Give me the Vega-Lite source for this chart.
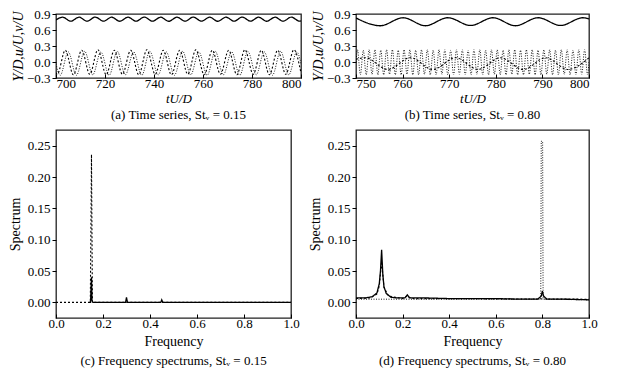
{
"$schema":"https://vega.github.io/schema/vega-lite/v6.json",
"background":"white",
"padding":{"left":7,"top":7,"right":5,"bottom":5},
"config":{
 "view":{"stroke":"#222","strokeWidth":1.3},
 "font":"Liberation Serif",
 "axis":{"grid":false,"domain":false,"labelFont":"Liberation Serif","labelFontSize":13,"labelColor":"black","titleFont":"Liberation Serif","titleFontSize":13,"titleFontWeight":"normal","titleColor":"black","tickColor":"black","tickSize":4},
 "axisX":{"tickSize":-4,"labelPadding":3,"titlePadding":2},
 "title":{"font":"Liberation Serif","fontSize":13,"fontWeight":"normal","color":"black","orient":"bottom","offset":4}
},
"datasets":{
"a":[
{"s":"Y","t":700,"y":0.79},{"s":"Y","t":702.7,"y":0.84},{"s":"Y","t":706.0,"y":0.765},{"s":"Y","t":709.4,"y":0.84},{"s":"Y","t":712.7,"y":0.765},{"s":"Y","t":716.0,"y":0.842},{"s":"Y","t":719.4,"y":0.766},{"s":"Y","t":722.7,"y":0.84},{"s":"Y","t":726.0,"y":0.764},{"s":"Y","t":729.4,"y":0.84},{"s":"Y","t":732.7,"y":0.765},{"s":"Y","t":736.0,"y":0.842},{"s":"Y","t":739.4,"y":0.766},{"s":"Y","t":742.7,"y":0.84},{"s":"Y","t":746.0,"y":0.764},{"s":"Y","t":749.4,"y":0.84},{"s":"Y","t":752.7,"y":0.765},{"s":"Y","t":756.0,"y":0.842},{"s":"Y","t":759.4,"y":0.766},{"s":"Y","t":762.7,"y":0.84},{"s":"Y","t":766.0,"y":0.764},{"s":"Y","t":769.4,"y":0.84},{"s":"Y","t":772.7,"y":0.765},{"s":"Y","t":776.0,"y":0.842},{"s":"Y","t":779.4,"y":0.766},{"s":"Y","t":782.7,"y":0.84},{"s":"Y","t":786.0,"y":0.764},{"s":"Y","t":789.4,"y":0.84},{"s":"Y","t":792.7,"y":0.765},{"s":"Y","t":796.0,"y":0.842},{"s":"Y","t":799.4,"y":0.766},{"s":"Y","t":800,"y":0.77},
{"s":"u","t":700,"y":-0.2},{"s":"u","t":700.5,"y":-0.23},{"s":"u","t":703.8,"y":0.22},{"s":"u","t":707.1,"y":-0.24},{"s":"u","t":710.5,"y":0.22},{"s":"u","t":713.8,"y":-0.23},{"s":"u","t":717.1,"y":0.23},{"s":"u","t":720.5,"y":-0.24},{"s":"u","t":723.8,"y":0.22},{"s":"u","t":727.1,"y":-0.23},{"s":"u","t":730.5,"y":0.22},{"s":"u","t":733.8,"y":-0.24},{"s":"u","t":737.1,"y":0.23},{"s":"u","t":740.5,"y":-0.23},{"s":"u","t":743.8,"y":0.22},{"s":"u","t":747.1,"y":-0.24},{"s":"u","t":750.5,"y":0.22},{"s":"u","t":753.8,"y":-0.23},{"s":"u","t":757.1,"y":0.23},{"s":"u","t":760.5,"y":-0.24},{"s":"u","t":763.8,"y":0.22},{"s":"u","t":767.1,"y":-0.23},{"s":"u","t":770.5,"y":0.22},{"s":"u","t":773.8,"y":-0.24},{"s":"u","t":777.1,"y":0.23},{"s":"u","t":780.5,"y":-0.23},{"s":"u","t":783.8,"y":0.22},{"s":"u","t":787.1,"y":-0.24},{"s":"u","t":790.5,"y":0.22},{"s":"u","t":793.8,"y":-0.23},{"s":"u","t":797.1,"y":0.23},{"s":"u","t":800,"y":-0.21},
{"s":"v","t":700,"y":-0.03},{"s":"v","t":701.7,"y":-0.25},{"s":"v","t":705.0,"y":0.19},{"s":"v","t":708.3,"y":-0.25},{"s":"v","t":711.7,"y":0.2},{"s":"v","t":715.0,"y":-0.24},{"s":"v","t":718.3,"y":0.19},{"s":"v","t":721.7,"y":-0.25},{"s":"v","t":725.0,"y":0.2},{"s":"v","t":728.3,"y":-0.24},{"s":"v","t":731.7,"y":0.19},{"s":"v","t":735.0,"y":-0.25},{"s":"v","t":738.3,"y":0.2},{"s":"v","t":741.7,"y":-0.24},{"s":"v","t":745.0,"y":0.19},{"s":"v","t":748.3,"y":-0.25},{"s":"v","t":751.7,"y":0.2},{"s":"v","t":755.0,"y":-0.24},{"s":"v","t":758.3,"y":0.19},{"s":"v","t":761.7,"y":-0.25},{"s":"v","t":765.0,"y":0.2},{"s":"v","t":768.3,"y":-0.24},{"s":"v","t":771.7,"y":0.19},{"s":"v","t":775.0,"y":-0.25},{"s":"v","t":778.3,"y":0.2},{"s":"v","t":781.7,"y":-0.24},{"s":"v","t":785.0,"y":0.19},{"s":"v","t":788.3,"y":-0.25},{"s":"v","t":791.7,"y":0.2},{"s":"v","t":795.0,"y":-0.24},{"s":"v","t":798.3,"y":0.19},{"s":"v","t":800,"y":-0.03}
],
"b":[
{"s":"Y","t":750,"y":0.825},{"s":"Y","t":755.2,"y":0.68},{"s":"Y","t":760.1,"y":0.83},{"s":"Y","t":764.9,"y":0.68},{"s":"Y","t":769.7,"y":0.83},{"s":"Y","t":774.6,"y":0.685},{"s":"Y","t":779.4,"y":0.83},{"s":"Y","t":784.2,"y":0.68},{"s":"Y","t":789.1,"y":0.83},{"s":"Y","t":793.9,"y":0.685},{"s":"Y","t":798.7,"y":0.83},{"s":"Y","t":800,"y":0.81},
{"s":"u","t":750,"y":0.05},{"s":"u","t":752,"y":0.08},{"s":"u","t":756.8,"y":-0.14},{"s":"u","t":761.7,"y":0.08},{"s":"u","t":766.5,"y":-0.14},{"s":"u","t":771.4,"y":0.08},{"s":"u","t":776.2,"y":-0.14},{"s":"u","t":781,"y":0.08},{"s":"u","t":785.9,"y":-0.14},{"s":"u","t":790.7,"y":0.08},{"s":"u","t":795.5,"y":-0.14},{"s":"u","t":800,"y":0.08},
{"s":"v","t":750,"y":0},
{"s":"v","t":750.31,"y":0.23},{"s":"v","t":750.94,"y":-0.24},{"s":"v","t":751.56,"y":0.22},{"s":"v","t":752.19,"y":-0.24},{"s":"v","t":752.81,"y":0.23},{"s":"v","t":753.44,"y":-0.23},{"s":"v","t":754.06,"y":0.23},{"s":"v","t":754.69,"y":-0.24},{"s":"v","t":755.31,"y":0.22},{"s":"v","t":755.94,"y":-0.24},
{"s":"v","t":756.56,"y":0.23},{"s":"v","t":757.19,"y":-0.23},{"s":"v","t":757.81,"y":0.23},{"s":"v","t":758.44,"y":-0.24},{"s":"v","t":759.06,"y":0.22},{"s":"v","t":759.69,"y":-0.24},{"s":"v","t":760.31,"y":0.23},{"s":"v","t":760.94,"y":-0.23},{"s":"v","t":761.56,"y":0.23},{"s":"v","t":762.19,"y":-0.24},
{"s":"v","t":762.81,"y":0.22},{"s":"v","t":763.44,"y":-0.24},{"s":"v","t":764.06,"y":0.23},{"s":"v","t":764.69,"y":-0.23},{"s":"v","t":765.31,"y":0.23},{"s":"v","t":765.94,"y":-0.24},{"s":"v","t":766.56,"y":0.22},{"s":"v","t":767.19,"y":-0.24},{"s":"v","t":767.81,"y":0.23},{"s":"v","t":768.44,"y":-0.23},
{"s":"v","t":769.06,"y":0.23},{"s":"v","t":769.69,"y":-0.24},{"s":"v","t":770.31,"y":0.22},{"s":"v","t":770.94,"y":-0.24},{"s":"v","t":771.56,"y":0.23},{"s":"v","t":772.19,"y":-0.23},{"s":"v","t":772.81,"y":0.23},{"s":"v","t":773.44,"y":-0.24},{"s":"v","t":774.06,"y":0.22},{"s":"v","t":774.69,"y":-0.24},
{"s":"v","t":775.31,"y":0.23},{"s":"v","t":775.94,"y":-0.23},{"s":"v","t":776.56,"y":0.23},{"s":"v","t":777.19,"y":-0.24},{"s":"v","t":777.81,"y":0.22},{"s":"v","t":778.44,"y":-0.24},{"s":"v","t":779.06,"y":0.23},{"s":"v","t":779.69,"y":-0.23},{"s":"v","t":780.31,"y":0.23},{"s":"v","t":780.94,"y":-0.24},
{"s":"v","t":781.56,"y":0.22},{"s":"v","t":782.19,"y":-0.24},{"s":"v","t":782.81,"y":0.23},{"s":"v","t":783.44,"y":-0.23},{"s":"v","t":784.06,"y":0.23},{"s":"v","t":784.69,"y":-0.24},{"s":"v","t":785.31,"y":0.22},{"s":"v","t":785.94,"y":-0.24},{"s":"v","t":786.56,"y":0.23},{"s":"v","t":787.19,"y":-0.23},
{"s":"v","t":787.81,"y":0.23},{"s":"v","t":788.44,"y":-0.24},{"s":"v","t":789.06,"y":0.22},{"s":"v","t":789.69,"y":-0.24},{"s":"v","t":790.31,"y":0.23},{"s":"v","t":790.94,"y":-0.23},{"s":"v","t":791.56,"y":0.23},{"s":"v","t":792.19,"y":-0.24},{"s":"v","t":792.81,"y":0.22},{"s":"v","t":793.44,"y":-0.24},
{"s":"v","t":794.06,"y":0.23},{"s":"v","t":794.69,"y":-0.23},{"s":"v","t":795.31,"y":0.23},{"s":"v","t":795.94,"y":-0.24},{"s":"v","t":796.56,"y":0.22},{"s":"v","t":797.19,"y":-0.24},{"s":"v","t":797.81,"y":0.23},{"s":"v","t":798.44,"y":-0.23},{"s":"v","t":799.06,"y":0.23},{"s":"v","t":799.69,"y":-0.24},
{"s":"v","t":800,"y":0}
],
"c":[
{"s":"u","t":0,"y":0},{"s":"u","t":0.146,"y":0},{"s":"u","t":0.151,"y":0.236},{"s":"u","t":0.155,"y":0},{"s":"u","t":1,"y":0},
{"s":"Y","t":0.14,"y":0},{"s":"Y","t":0.147,"y":0},{"s":"Y","t":0.151,"y":0.04},{"s":"Y","t":0.153,"y":0.003},{"s":"Y","t":0.157,"y":0},{"s":"Y","t":0.296,"y":0},{"s":"Y","t":0.3,"y":0.008},{"s":"Y","t":0.304,"y":0},{"s":"Y","t":0.446,"y":0},{"s":"Y","t":0.45,"y":0.004},{"s":"Y","t":0.454,"y":0},{"s":"Y","t":1,"y":0}
],
"d":[
{"s":"v","t":0,"y":0.005},{"s":"v","t":0.793,"y":0.005},{"s":"v","t":0.795,"y":0.257},{"s":"v","t":0.801,"y":0.257},{"s":"v","t":0.803,"y":0.005},{"s":"v","t":1,"y":0.004},
{"s":"u","t":0,"y":0.006},{"s":"u","t":0.06,"y":0.007},{"s":"u","t":0.09,"y":0.013},{"s":"u","t":0.1,"y":0.026},{"s":"u","t":0.11,"y":0.065},{"s":"u","t":0.12,"y":0.024},{"s":"u","t":0.14,"y":0.01},{"s":"u","t":0.2,"y":0.006},{"s":"u","t":0.22,"y":0.01},{"s":"u","t":0.24,"y":0.006},{"s":"u","t":1,"y":0.005},
{"s":"Y","t":0,"y":0.007},{"s":"Y","t":0.04,"y":0.007},{"s":"Y","t":0.07,"y":0.009},{"s":"Y","t":0.09,"y":0.015},{"s":"Y","t":0.1,"y":0.03},{"s":"Y","t":0.105,"y":0.05},{"s":"Y","t":0.11,"y":0.084},{"s":"Y","t":0.115,"y":0.045},{"s":"Y","t":0.12,"y":0.025},{"s":"Y","t":0.13,"y":0.014},{"s":"Y","t":0.15,"y":0.008},{"s":"Y","t":0.18,"y":0.007},{"s":"Y","t":0.21,"y":0.007},{"s":"Y","t":0.22,"y":0.012},{"s":"Y","t":0.23,"y":0.007},{"s":"Y","t":0.3,"y":0.007},{"s":"Y","t":0.4,"y":0.006},{"s":"Y","t":0.5,"y":0.006},{"s":"Y","t":0.6,"y":0.006},{"s":"Y","t":0.7,"y":0.005},{"s":"Y","t":0.78,"y":0.005},{"s":"Y","t":0.795,"y":0.01},{"s":"Y","t":0.8,"y":0.018},{"s":"Y","t":0.805,"y":0.01},{"s":"Y","t":0.82,"y":0.005},{"s":"Y","t":0.9,"y":0.005},{"s":"Y","t":1,"y":0.004}
]
},
"bounds":"flush",
"align":"each",
"columns":2,
"spacing":{"row":52,"column":55},
"concat":[
 {"width":245,"height":64,"data":{"name":"a"},
  "title":{"text":"(a) Time series, Stᵥ = 0.15"},
  "mark":{"type":"line","interpolate":"monotone","color":"black","clip":true},
  "encoding":{
   "x":{"field":"t","type":"quantitative","scale":{"domain":[700,800],"nice":false},"axis":{"title":"tU/D","titleFontStyle":"italic","values":[700,720,740,760,780,800]}},
   "y":{"field":"y","type":"quantitative","scale":{"domain":[-0.3,0.9],"nice":false},"axis":{"title":"Y/D,u/U,v/U","titleFontStyle":"italic","titleFontSize":14,"titlePadding":1,"values":[-0.3,0,0.3,0.6,0.9],"format":".1f"}},
   "strokeDash":{"field":"s","type":"nominal","scale":{"domain":["Y","u","v"],"range":[[1,0],[2,2],[1,1.5]]},"legend":null},
   "strokeWidth":{"field":"s","type":"nominal","scale":{"domain":["Y","u","v"],"range":[1.3,0.9,1]},"legend":null}
  }},
 {"width":233,"height":64,"data":{"name":"b"},
  "title":{"text":"(b) Time series, Stᵥ = 0.80"},
  "mark":{"type":"line","interpolate":"monotone","color":"black","clip":true},
  "encoding":{
   "x":{"field":"t","type":"quantitative","scale":{"domain":[750,800],"nice":false},"axis":{"title":"tU/D","titleFontStyle":"italic","values":[750,760,770,780,790,800]}},
   "y":{"field":"y","type":"quantitative","scale":{"domain":[-0.3,0.9],"nice":false},"axis":{"title":"Y/D,u/U,v/U","titleFontStyle":"italic","titleFontSize":14,"titlePadding":1,"values":[-0.3,0,0.3,0.6,0.9],"format":".1f"}},
   "strokeDash":{"field":"s","type":"nominal","scale":{"domain":["Y","u","v"],"range":[[1,0],[2,2],[1,1.5]]},"legend":null},
   "strokeWidth":{"field":"s","type":"nominal","scale":{"domain":["Y","u","v"],"range":[1.3,0.9,1]},"legend":null}
  }},
 {"width":235,"height":188,"data":{"name":"c"},
  "title":{"text":"(c) Frequency spectrums, Stᵥ = 0.15","offset":7},
  "mark":{"type":"line","color":"black","clip":true},
  "encoding":{
   "x":{"field":"t","type":"quantitative","scale":{"domain":[0,1],"nice":false},"axis":{"title":"Frequency","titleFontSize":14,"titlePadding":4,"labelFlush":false,"values":[0,0.2,0.4,0.6,0.8,1],"format":".1f"}},
   "y":{"field":"y","type":"quantitative","scale":{"domain":[-0.025,0.275],"nice":false},"axis":{"title":"Spectrum","titleFontSize":14,"titlePadding":5,"values":[0,0.05,0.1,0.15,0.2,0.25],"format":".2f"}},
   "strokeDash":{"field":"s","type":"nominal","scale":{"domain":["Y","u","v"],"range":[[1,0],[3,1.5],[1,1.5]]},"legend":null},
   "strokeWidth":{"field":"s","type":"nominal","scale":{"domain":["Y","u","v"],"range":[1.3,1,1]},"legend":null}
  }},
 {"width":233,"height":188,"data":{"name":"d"},
  "title":{"text":"(d) Frequency spectrums, Stᵥ = 0.80","offset":7},
  "mark":{"type":"line","color":"black","clip":true},
  "encoding":{
   "x":{"field":"t","type":"quantitative","scale":{"domain":[0,1],"nice":false},"axis":{"title":"Frequency","titleFontSize":14,"titlePadding":4,"labelFlush":false,"values":[0,0.2,0.4,0.6,0.8,1],"format":".1f"}},
   "y":{"field":"y","type":"quantitative","scale":{"domain":[-0.025,0.275],"nice":false},"axis":{"title":"Spectrum","titleFontSize":14,"titlePadding":5,"values":[0,0.05,0.1,0.15,0.2,0.25],"format":".2f"}},
   "strokeDash":{"field":"s","type":"nominal","scale":{"domain":["Y","u","v"],"range":[[1,0],[3,1.5],[1,1.5]]},"legend":null},
   "strokeWidth":{"field":"s","type":"nominal","scale":{"domain":["Y","u","v"],"range":[1.3,1,1]},"legend":null}
  }}
]
}
